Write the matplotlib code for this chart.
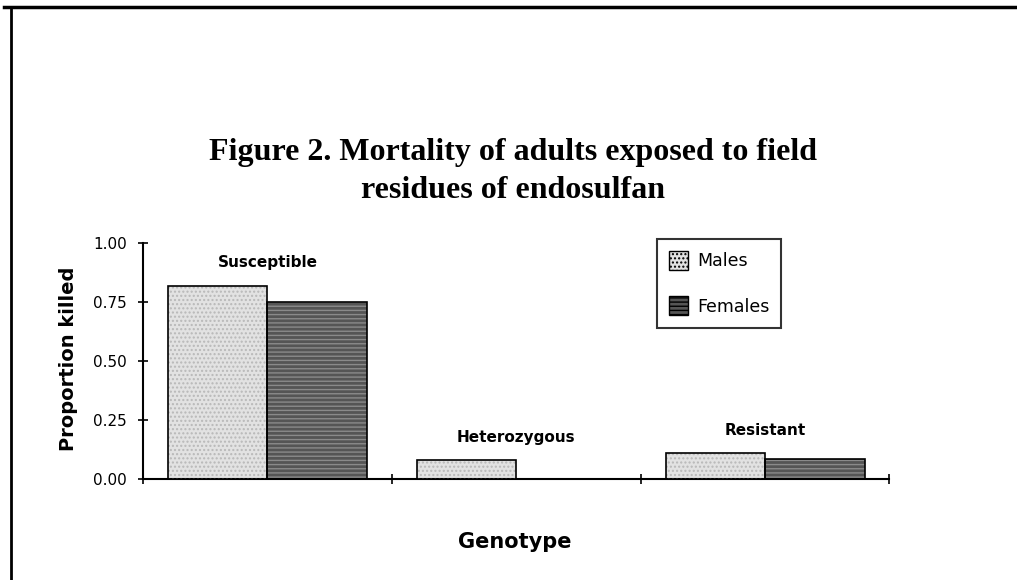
import numpy as np
import matplotlib
matplotlib.use("Agg")
import matplotlib.pyplot as plt
from matplotlib.lines import Line2D
from matplotlib.patches import Patch

# data
genotypes = ["Susceptible", "Heterozygous", "Resistant"]
males = [0.82, 0.08, 0.11]
females = [0.75, 0.0, 0.085]
yticks = [0.0, 0.25, 0.5, 0.75, 1.0]

fig = plt.figure(figsize=(10.17, 5.8), dpi=100)
ax = fig.add_axes([0.1406, 0.1741, 0.734, 0.4069])

x = np.arange(len(genotypes)) + 0.5
w = 0.4

# males: light stippled grey
ax.bar(x - w / 2, males, width=w, color="#e2e2e2", edgecolor="none", zorder=2)
ax.bar(x - w / 2, males, width=w, color="none", edgecolor="#b8b8b8",
       hatch="....", linewidth=0, zorder=3)
ax.bar(x - w / 2, males, width=w, color="none", edgecolor="black",
       linewidth=1.2, zorder=4)

# females: dark grey with horizontal lines
ax.bar(x + w / 2, females, width=w, color="#555555", edgecolor="none", zorder=2)
ax.bar(x + w / 2, females, width=w, color="none", edgecolor="#8a8a8a",
       hatch="----", linewidth=0, zorder=3)
ax.bar(x + w / 2, females, width=w, color="none", edgecolor="black",
       linewidth=1.2, zorder=4)

# category names above each group
for xi, name, m, f in zip(x, genotypes, males, females):
    ax.text(xi, max(m, f) + 0.097, name, ha="center", va="center",
            fontsize=11, fontweight="bold")

ax.set_xlim(0, 3)
ax.set_ylim(0, 1.0)
ax.set_xticks([0, 1, 2, 3])
ax.set_xticklabels([])
ax.set_yticks(yticks)
ax.set_yticklabels(["%.2f" % v for v in yticks], fontsize=11)
ax.tick_params(direction="inout", length=7, width=1.2, pad=8)
for s in ["top", "right"]:
    ax.spines[s].set_visible(False)
for s in ["left", "bottom"]:
    ax.spines[s].set_linewidth(1.5)

# legend box
handles = [Patch(facecolor="#e2e2e2", edgecolor="black", hatch="....", label="Males"),
           Patch(facecolor="#555555", edgecolor="black", hatch="----", label="Females")]
leg = fig.legend(handles=handles, loc="upper left", bbox_to_anchor=(0.646, 0.588),
                 fontsize=12.5, frameon=True, fancybox=False, edgecolor="black",
                 handlelength=1.1, handleheight=1.3, labelspacing=1.5,
                 borderpad=0.7, borderaxespad=0, handletextpad=0.5)
leg.get_frame().set_linewidth(1.5)

# titles and axis labels
fig.text(0.504, 0.705, "Figure 2. Mortality of adults exposed to field\nresidues of endosulfan",
         ha="center", va="center", fontsize=23, fontweight="bold",
         family="Liberation Serif", linespacing=1.4)
fig.text(0.506, 0.0655, "Genotype", ha="center", va="center",
         fontsize=15, fontweight="bold")
fig.text(0.0669, 0.381, "Proportion killed", ha="center", va="center",
         rotation=90, fontsize=14, fontweight="bold")

# page frame lines
fig.add_artist(Line2D([0.004, 1.0], [0.988, 0.988], color="black", lw=2.5))
fig.add_artist(Line2D([0.011, 0.011], [0.0, 0.985], color="black", lw=2))

fig.savefig("out.png", dpi=100, facecolor="white")
